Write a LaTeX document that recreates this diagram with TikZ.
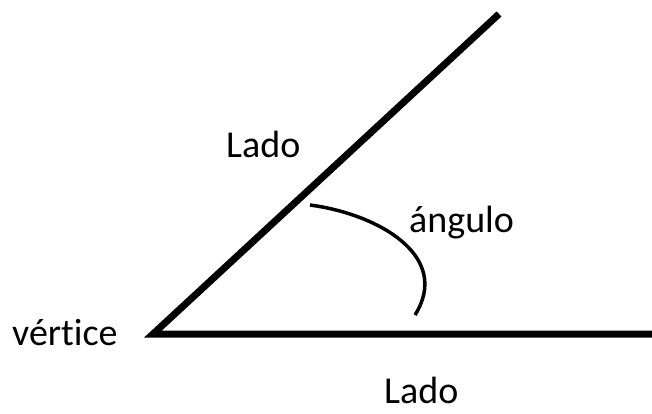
\documentclass[tikz,border=0pt]{standalone}
\usepackage{fontspec}
\setmainfont[Ligatures=NoCommon]{Carlito}

\tikzset{
  side/.style={line width=7pt},
  arcline/.style={line width=3.5pt},
  lbl/.style={anchor=base west, inner sep=0pt, font=\fontsize{38}{46}\selectfont}
}

\begin{document}
\begin{tikzpicture}[x=1pt, y=-1pt]
    \useasboundingbox (0,0) rectangle (652,413);
    % sides of the angle
    \coordinate (v) at (153,334);
    \coordinate (top) at (499,14);
    \coordinate (right) at (652,334);
    \draw[side] (top) -- (v) -- (right);
    % the angle itself
    \coordinate (a1) at (310,205);
    \coordinate (a2) at (415,315);
    \draw[arcline] (a1) .. controls (378,214) and (452,256) .. (a2);
    % labels
    \node[lbl] (vert) at (12,345) {vértice};
    \node[lbl] (lado1) at (226,157) {Lado};
    \node[lbl] (ang) at (409,232) {ángulo};
    \node[lbl] (lado2) at (384,403) {Lado};
\end{tikzpicture}
\end{document}
